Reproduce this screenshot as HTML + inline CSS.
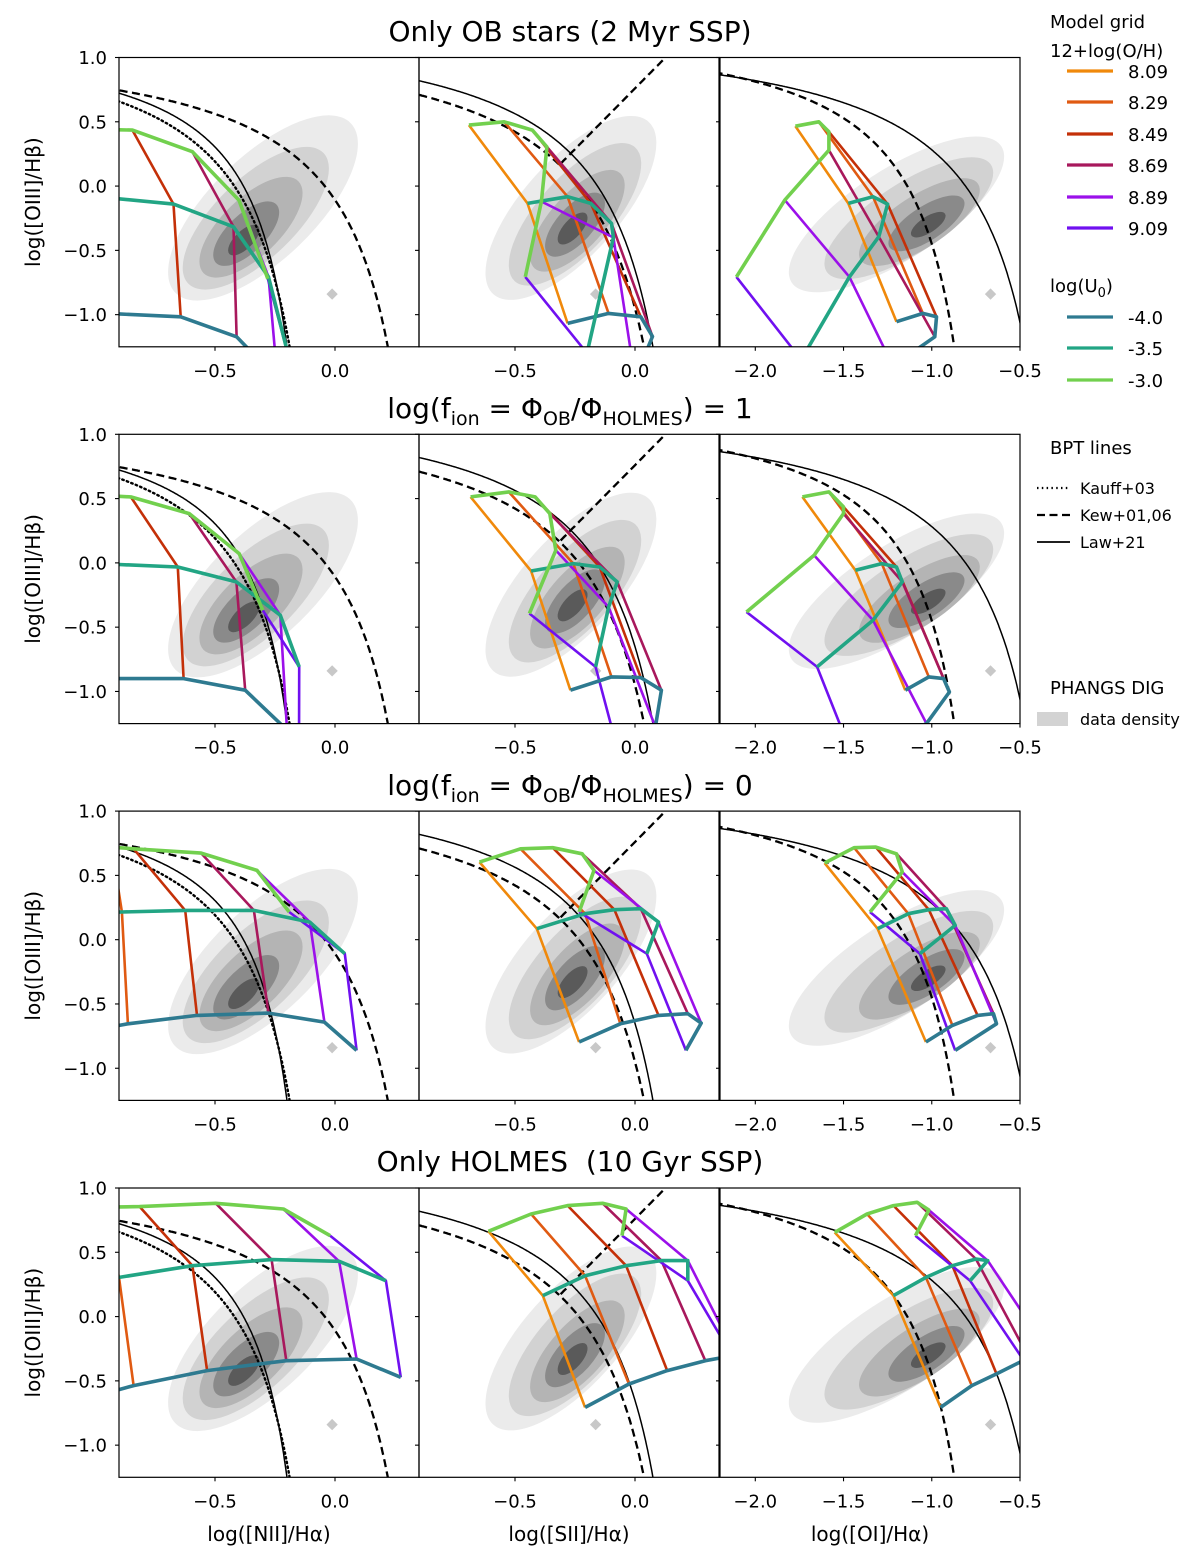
<!DOCTYPE html>
<html><head><meta charset="utf-8">
<style>
html,body{margin:0;padding:0;background:#fff;width:1200px;height:1559px;overflow:hidden;}
#wrap{position:relative;width:1200px;height:1559px;overflow:hidden;font-family:"DejaVu Sans","Liberation Sans",sans-serif;}
.title{position:absolute;left:120px;width:900px;text-align:center;font-size:28px;color:#000;line-height:30px;height:34px;white-space:nowrap;font-family:"DejaVu Sans","Liberation Sans",sans-serif;}
.title sub{font-size:19px;position:relative;top:7px;vertical-align:baseline;line-height:0;}
svg{display:block;}
svg text{font-family:"DejaVu Sans","Liberation Sans",sans-serif;}
</style></head>
<body>
<div id="wrap">
<svg id="fig" width="1200" height="1559" viewBox="0 0 1200 1559" style="position:absolute;left:0;top:0"></svg>
<div class="title" style="top:17px">Only OB stars (2 Myr SSP)</div>
<div class="title" style="top:394px">log(f<sub>ion</sub> = Φ<sub>OB</sub>/Φ<sub>HOLMES</sub>) = 1</div>
<div class="title" style="top:771px">log(f<sub>ion</sub> = Φ<sub>OB</sub>/Φ<sub>HOLMES</sub>) = 0</div>
<div class="title" style="top:1147px">Only HOLMES&nbsp; (10 Gyr SSP)</div>
</div>
<script>
// ---- data ----
const metallicities = ["8.09","8.29","8.49","8.69","8.89","9.09"];
const ionParams = ["-4.0","-3.5","-3.0"];
const zColors = ["#f0890b","#e05a12","#c43008","#a8185c","#9b10ea","#7010f0"];
const uColors = ["#2e7a90","#22a584","#72d04e"];
const xTicksN = [-0.5, 0.0];
const xTicksS = [-0.5, 0.0];
const xTicksO = [-2.0, -1.5, -1.0, -0.5];
const yTicks = [1.0, 0.5, 0.0, -0.5, -1.0];
const xLimN = [-0.9, 0.35], xLimS = [-0.9, 0.35], xLimO = [-2.2, -0.5], yLim = [-1.25, 1.0];
const r1nX = [[-1.0,-1.0,-1.1],[-0.95,-0.95,-0.95],[-0.643,-0.673,-0.844],[-0.41,-0.423,-0.594],[-0.24,-0.277,-0.4],[-0.25,-0.19,-0.28]];
const r1nY = [[-1.0,-0.08,0.45],[-0.99,-0.09,0.44],[-1.017,-0.14,0.435],[-1.172,-0.317,0.267],[-1.5,-0.706,-0.11],[-1.8,-1.35,-0.72]];
const r1sX = [[-0.281,-0.448,-0.692],[-0.11,-0.281,-0.545],[0.024,-0.184,-0.428],[0.073,-0.098,-0.367],[0.0,-0.09,-0.39],[0.0,-0.2,-0.457]];
const r1sY = [[-1.068,-0.135,0.474],[-0.99,-0.083,0.5],[-1.017,-0.135,0.435],[-1.17,-0.29,0.305],[-1.5,-0.4,-0.12],[-1.7,-1.3,-0.706]];
const r1oX = [[-1.2,-1.473,-1.773],[-1.05,-1.333,-1.64],[-0.973,-1.25,-1.583],[-0.983,-1.3,-1.583],[-1.22,-1.467,-1.833],[-1.0,-1.74,-2.107]];
const r1oY = [[-1.055,-0.135,0.466],[-0.99,-0.083,0.5],[-1.017,-0.14,0.422],[-1.172,-0.394,0.279],[-1.4,-0.706,-0.109],[-1.6,-1.35,-0.706]];
const r2nX = [[-0.98,-1.0,-1.1],[-0.91,-0.93,-0.93],[-0.631,-0.655,-0.851],[-0.374,-0.411,-0.607],[-0.2,-0.228,-0.399],[-0.15,-0.149,-0.301]];
const r2nY = [[-0.9,0.0,0.55],[-0.9,-0.01,0.52],[-0.9,-0.032,0.513],[-0.99,-0.148,0.383],[-1.3,-0.407,0.072],[-1.5,-0.809,-0.369]];
const r2sX = [[-0.269,-0.433,-0.685],[-0.098,-0.257,-0.526],[0.024,-0.147,-0.416],[0.11,-0.074,-0.355],[0.085,-0.11,-0.33],[-0.061,-0.164,-0.44]];
const r2sY = [[-0.99,-0.063,0.513],[-0.887,-0.006,0.552],[-0.892,-0.032,0.513],[-0.99,-0.148,0.383],[-1.276,-0.343,0.098],[-1.535,-0.809,-0.394]];
const r2oX = [[-1.15,-1.433,-1.733],[-1.017,-1.283,-1.583],[-0.933,-1.2,-1.5],[-0.9,-1.167,-1.5],[-1.03,-1.333,-1.667],[-1.45,-1.65,-2.05]];
const r2oY = [[-0.99,-0.058,0.513],[-0.887,-0.006,0.552],[-0.9,-0.032,0.435],[-1.004,-0.148,0.383],[-1.25,-0.446,0.059],[-1.5,-0.809,-0.382]];
const r3nX = [[-1.0,-1.0,-1.1],[-0.863,-0.888,-0.93],[-0.575,-0.624,-0.839],[-0.277,-0.338,-0.558],[-0.044,-0.105,-0.325],[0.09,0.041,-0.191]];
const r3nY = [[-0.7,0.21,0.74],[-0.654,0.215,0.72],[-0.589,0.228,0.707],[-0.571,0.228,0.673],[-0.641,0.137,0.539],[-0.861,-0.109,0.215]];
const r3sX = [[-0.233,-0.409,-0.648],[-0.061,-0.208,-0.477],[0.098,-0.086,-0.343],[0.22,0.024,-0.22],[0.276,0.098,-0.171],[0.212,0.049,-0.233]];
const r3sY = [[-0.796,0.085,0.603],[-0.654,0.202,0.707],[-0.589,0.233,0.715],[-0.576,0.241,0.668],[-0.649,0.137,0.539],[-0.861,-0.109,0.215]];
const r3oX = [[-1.033,-1.307,-1.607],[-0.883,-1.133,-1.44],[-0.74,-1.017,-1.317],[-0.65,-0.917,-1.2],[-0.633,-0.867,-1.167],[-0.867,-1.067,-1.35]];
const r3oY = [[-0.796,0.085,0.596],[-0.667,0.202,0.715],[-0.589,0.233,0.72],[-0.576,0.241,0.668],[-0.654,0.111,0.526],[-0.861,-0.109,0.215]];
const r4nX = [[-1.0,-1.0,-1.1],[-0.839,-0.9,-0.97],[-0.533,-0.594,-0.814],[-0.203,-0.264,-0.497],[0.09,0.017,-0.215],[0.274,0.212,-0.02]];
const r4nY = [[-0.62,0.25,0.84],[-0.537,0.305,0.85],[-0.42,0.396,0.855],[-0.343,0.443,0.881],[-0.33,0.43,0.837],[-0.472,0.279,0.629]];
const r4sX = [[-0.208,-0.384,-0.611],[-0.025,-0.208,-0.433],[0.134,-0.037,-0.281],[0.293,0.11,-0.135],[0.42,0.22,-0.037],[0.45,0.22,-0.054]];
const r4sY = [[-0.706,0.163,0.663],[-0.524,0.318,0.798],[-0.42,0.396,0.863],[-0.343,0.435,0.881],[-0.3,0.435,0.837],[-0.45,0.279,0.629]];
const r4oX = [[-0.95,-1.217,-1.55],[-0.773,-1.033,-1.367],[-0.633,-0.883,-1.217],[-0.45,-0.75,-1.083],[-0.35,-0.683,-1.017],[-0.45,-0.783,-1.093]];
const r4oY = [[-0.706,0.163,0.655],[-0.537,0.305,0.798],[-0.446,0.396,0.863],[-0.32,0.448,0.889],[-0.25,0.435,0.829],[-0.4,0.279,0.629]];
const densNX = [-0.30,-0.33,-0.35,-0.37,-0.38], densNY = [-0.17,-0.25,-0.32,-0.37,-0.42];
const densSX = [-0.267,-0.25,-0.24,-0.25,-0.26], densSY = [-0.17,-0.22,-0.27,-0.30,-0.33];
const densOX = [-1.20,-1.13,-1.07,-1.03,-1.02], densOY = [-0.22,-0.25,-0.28,-0.29,-0.30];
const outlierX = [-0.012, -0.164, -0.667], outlierY = [-0.84, -0.84, -0.84];

// ---- layout ----
const NS = "http://www.w3.org/2000/svg";
const svg = document.getElementById('fig');
const colLeft = [119, 419, 720], panelW = 300;
const rowTop = [57.5, 434.3, 811.1, 1188], panelH = 289.3;
const densColors = ["#ebebeb","#d2d2d2","#b4b4b4","#8a8a8a","#5a5a5a"];
const densA = {n:[122,94,66,42,20], s:[116,90,64,40,20], o:[125,98,70,44,20]};
const densB = {n:[52,40,29,19,9], s:[48,37,27,18,9], o:[45,35,26,17,8]};
const densRot = {n:-44, s:-48, o:-33};

function mk(tag, attrs, parent){ const e=document.createElementNS(NS,tag); for(const k in attrs) e.setAttribute(k,attrs[k]); (parent||svg).appendChild(e); return e; }
function fmt(v){ const s=Math.abs(v).toFixed(1); return (v<-1e-9?"\u2212":"")+s; }

const diagrams = [
 {key:'n', xl:xLimN, ticks:xTicksN, dx:densNX, dy:densNY, label:"log([NII]/H\u03b1)"},
 {key:'s', xl:xLimS, ticks:xTicksS, dx:densSX, dy:densSY, label:"log([SII]/H\u03b1)"},
 {key:'o', xl:xLimO, ticks:xTicksO, dx:densOX, dy:densOY, label:"log([OI]/H\u03b1)"}
];
const gridsX = [[r1nX,r1sX,r1oX],[r2nX,r2sX,r2oX],[r3nX,r3sX,r3oX],[r4nX,r4sX,r4oX]];
const gridsY = [[r1nY,r1sY,r1oY],[r2nY,r2sY,r2oY],[r3nY,r3sY,r3oY],[r4nY,r4sY,r4oY]];

function curvePts(f, x0, x1, sx, sy){ let p=[]; for(let i=0;i<=300;i++){ const x=x0+(x1-x0)*i/300; const y=f(x); if(isFinite(y)&&y>-3&&y<3) p.push(sx(x).toFixed(1)+","+sy(y).toFixed(1)); } return p.join(" "); }

for(let r=0;r<4;r++){
 for(let c=0;c<3;c++){
  const d=diagrams[c]; const L=colLeft[c], T=rowTop[r];
  const sx = v => L + (v-d.xl[0])/(d.xl[1]-d.xl[0])*panelW;
  const sy = v => T + (yLim[1]-v)/(yLim[1]-yLim[0])*panelH;
  const g = mk('g',{});
  
  
  const cid='clip'+r+c;
  const cp=mk('clipPath',{id:cid},g); mk('rect',{x:L,y:T,width:panelW,height:panelH},cp);
  const inner=mk('g',{'clip-path':'url(#'+cid+')'},g);
  for(let k=0;k<5;k++){
   const e=mk('ellipse',{cx:sx(d.dx[k]),cy:sy(d.dy[k]),rx:densA[d.key][k],ry:densB[d.key][k],fill:densColors[k],transform:'rotate('+densRot[d.key]+' '+sx(d.dx[k])+' '+sy(d.dy[k])+')'},inner);
   
   
  }
  const od=mk('rect',{x:sx(outlierX[c])-4,y:sy(outlierY[c])-4,width:8,height:8,fill:'#c8c8c8',transform:'rotate(45 '+sx(outlierX[c])+' '+sy(outlierY[c])+')'},inner);
  
  
  let curves=[];
  if(d.key==='n'){
   curves.push([x=>0.61/(x-0.05)+1.3,-1,0.04,'dot']);
   curves.push([x=>0.61/(x-0.47)+1.19,-1,0.46,'dash']);
   curves.push([x=>0.438/(x+0.023)+1.222,-1,-0.03,'solid']);
  } else if(d.key==='s'){
   curves.push([x=>0.72/(x-0.32)+1.30,-1,0.31,'dash']);
   curves.push([x=>1.89*x+0.76,-0.31,0.3,'dash']);
   curves.push([x=>0.648/(x-0.324)+1.349,-1,0.31,'solid']);
  } else {
   curves.push([x=>0.73/(x+0.59)+1.33,-2.3,-0.6,'dash']);
   curves.push([x=>0.884/(x+0.124)+1.291,-2.3,-0.45,'solid']);
  }
  curves.forEach(cv=>{
   const st={fill:'none',stroke:'#000'};
   if(cv[3]==='dot'){st['stroke-width']=2.4;st['stroke-dasharray']='1.5,3.3';st['stroke-linecap']='round';}
   else if(cv[3]==='dash'){st['stroke-width']=2.3;st['stroke-dasharray']='8,4.5';}
   else st['stroke-width']=1.5;
   st.points=curvePts(cv[0],cv[1],cv[2],sx,sy);
   const pl=mk('polyline',st,inner);
   
   
  });
  const GX=gridsX[r][c], GY=gridsY[r][c];
  for(let z=0;z<6;z++){
   const pts=[0,1,2].map(u=>sx(GX[z][u]).toFixed(1)+","+sy(GY[z][u]).toFixed(1)).join(" ");
   const pl=mk('polyline',{points:pts,fill:'none',stroke:zColors[z],'stroke-width':2.6,'stroke-linejoin':'round'},inner);
   
   
  }
  for(let u=0;u<3;u++){
   const pts=[0,1,2,3,4,5].map(z=>sx(GX[z][u]).toFixed(1)+","+sy(GY[z][u]).toFixed(1)).join(" ");
   const pl=mk('polyline',{points:pts,fill:'none',stroke:uColors[u],'stroke-width':3.6,'stroke-linejoin':'round'},inner);
   
   
  }
  const fr=mk('rect',{x:L,y:T,width:panelW,height:panelH,fill:'none',stroke:'#000','stroke-width':1.2},g);
  
  
  yTicks.forEach(v=>{
   mk('line',{x1:L-4,x2:L,y1:sy(v),y2:sy(v),stroke:'#000','stroke-width':1.1},g);
   if(c===0){
    const t=mk('text',{x:L-12,y:sy(v)+6.5,'text-anchor':'end','font-size':18},g);
    t.textContent=fmt(v);
    
    
   }
  });
  d.ticks.forEach(v=>{
   const x=sx(v);
   mk('line',{x1:x,x2:x,y1:T+panelH,y2:T+panelH+4,stroke:'#000','stroke-width':1.1},g);
   const t=mk('text',{x:x,y:T+panelH+30,'text-anchor':'middle','font-size':18},g);
   t.textContent=fmt(v);
   
   
  });
  if(r===3){
   const t=mk('text',{x:L+150,y:1541,'text-anchor':'middle','font-size':20},g);
   t.textContent=d.label;
   
   
  }
 }
 const yl=mk('text',{x:0,y:0,'text-anchor':'middle','font-size':20,transform:'translate(40 '+(rowTop[r]+panelH/2)+') rotate(-90)'});
 yl.textContent="log([OIII]/H\u03b2)";
 
 
}

// ---- legend ----
const leg=mk('g',{});


function ltxt(x,y,s,size){ const t=mk('text',{x:x,y:y,'font-size':size||18},leg); t.textContent=s; return t; }
let t;
t=ltxt(1050,28,"Model grid");  
t=ltxt(1050,57,"12+log(O/H)");  
const zy=[71,102,134,165,197,228];
metallicities.forEach((m,i)=>{
 const l=mk('line',{x1:1067,x2:1113,y1:zy[i],y2:zy[i],stroke:zColors[i],'stroke-width':3.2},leg);
 
 
 ltxt(1128,zy[i]+7,m);
});
const lu=mk('text',{x:1050,y:292,'font-size':18},leg);
lu.innerHTML='log(U<tspan font-size="13" dy="5">0</tspan><tspan dy="-5">)</tspan>';


const uy=[317,348,380];
ionParams.forEach((u,i)=>{
 const l=mk('line',{x1:1067,x2:1113,y1:uy[i],y2:uy[i],stroke:uColors[i],'stroke-width':3.2},leg);
 
 
 ltxt(1128,uy[i]+7,u);
});
t=ltxt(1050,454,"BPT lines");  
const bl=[[488,'1.5,3.3','Kauff+03',2.2],[515,'8,4.5','Kew+01,06',2.2],[542,'','Law+21',1.8]];
bl.forEach(b=>{
 const a={x1:1037,x2:1070,y1:b[0],y2:b[0],stroke:'#000','stroke-width':b[3]};
 if(b[1]) a['stroke-dasharray']=b[1];
 const l=mk('line',a,leg);
 
 
 ltxt(1080,b[0]+6,b[2],16);
});
t=ltxt(1050,694,"PHANGS DIG");  
const pr=mk('rect',{x:1037,y:712,width:31,height:14,fill:'#d3d3d3'},leg);


ltxt(1080,725,"data density",16);
</script>
</body></html>
